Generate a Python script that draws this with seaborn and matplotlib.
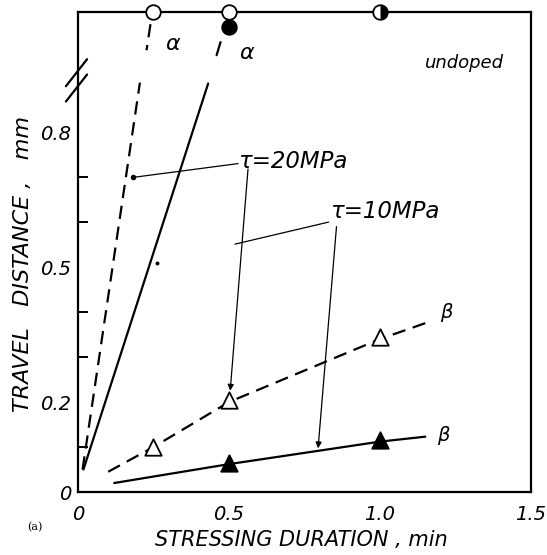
import matplotlib
matplotlib.use("Agg")
import matplotlib.pyplot as plt
import seaborn as sns
import pandas as pd
from matplotlib.markers import MarkerStyle

# ---------------- data ----------------
x_ticks = [0, 0.5, 1.0, 1.5]
x_ticklabels = ["0", "0.5", "1.0", "1.5"]
y_major = [0, 0.2, 0.5, 0.8]
y_major_labels = ["0", "0.2", "0.5", "0.8"]
y_minor = [0.1, 0.3, 0.4, 0.6, 0.7]
y_top = 1.067          # top frame (specimen fully crossed)

# alpha dislocations (steep lines)
alpha_dash_x = [0.015, 0.205]
alpha_dash_y = [0.05, 0.91]
alpha_solid_x = [0.018, 0.431]
alpha_solid_y = [0.05, 0.908]
alpha_dash_stub_x = [0.240, 0.227]
alpha_dash_stub_y = [1.04, 0.982]
alpha_solid_stub_x = [0.472, 0.459]
alpha_solid_stub_y = [1.0, 0.971]
top_open_x = [0.25, 0.5]
top_half_x = [1.0]
top_filled_x = [0.5]
top_filled_y = [1.034]
alpha_dot_x = [0.26]
alpha_dot_y = [0.51]

# beta dislocations
beta_dash_x = [0.10, 0.25, 0.5, 1.0, 1.17]
beta_dash_y = [0.045, 0.10, 0.20, 0.34, 0.38]
open_tri_x = [0.25, 0.5, 1.0]
open_tri_y = [0.10, 0.205, 0.345]
beta_solid_x = [0.12, 0.5, 1.0, 1.15]
beta_solid_y = [0.02, 0.062, 0.112, 0.123]
filled_tri_x = [0.5, 1.0]
filled_tri_y = [0.064, 0.115]

# ---------------- figure ----------------
sns.set_theme(style="white")
plt.rcParams['font.family'] = ['DejaVu Sans']
plt.rcParams['text.color'] = 'black'
fig = plt.figure(figsize=(5.47, 5.55), dpi=100)
ax = fig.add_axes([0.1426, 0.1135, 0.8281, 0.8649])
ax.set_xlim(0, 1.5)
ax.set_ylim(0, y_top)

lw = 1.6
dash = (6, 3.5)

def line(xs, ys, dashed=False, lw_=lw):
    df = pd.DataFrame({"x": xs, "y": ys})
    sns.lineplot(data=df, x="x", y="y", ax=ax, color="black", lw=lw_,
                 sort=False, estimator=None, legend=False)
    ln = ax.lines[-1]
    if dashed:
        ln.set_dashes(dash)
    ln.set_clip_on(False)
    return ln

line(alpha_dash_x, alpha_dash_y, dashed=True)
line(alpha_solid_x, alpha_solid_y)
line(alpha_dash_stub_x, alpha_dash_stub_y, dashed=True)
line(alpha_solid_stub_x, alpha_solid_stub_y)
line(beta_dash_x, beta_dash_y, dashed=True)
line(beta_solid_x, beta_solid_y)

# markers
def scat(xs, ys, marker, fc, s, ec="black", lw_=1.3):
    df = pd.DataFrame({"x": xs, "y": ys})
    sns.scatterplot(data=df, x="x", y="y", ax=ax, marker=marker, s=s,
                    facecolor=fc, edgecolor=ec, linewidth=lw_, zorder=5,
                    clip_on=False, legend=False)

scat(top_open_x, [y_top] * len(top_open_x), "o", "white", 110)
scat(top_half_x, [y_top], "o", "white", 110)
scat(top_half_x, [y_top], MarkerStyle("o", fillstyle="right"), "black", 110, lw_=0)
scat(top_filled_x, top_filled_y, "o", "black", 110)
scat(open_tri_x, open_tri_y, "^", "white", 140)
scat(filled_tri_x, filled_tri_y, "^", "black", 140)
scat(alpha_dot_x, alpha_dot_y, "o", "black", 8, lw_=0)

# axes styling
for sp in ax.spines.values():
    sp.set_color("black")
    sp.set_linewidth(1.6)
ax.set_xticks(x_ticks)
ax.set_xticklabels(x_ticklabels)
ax.set_yticks(y_major)
ax.set_yticklabels(y_major_labels)
ax.set_yticks(y_minor, minor=True)
ax.tick_params(axis="both", which="major", direction="in", length=10, width=1.4,
               labelsize=14, colors="black")
ax.tick_params(axis="y", which="minor", direction="in", length=7, width=1.4,
               left=True, colors="black")
ax.tick_params(axis="x", pad=9)
ax.tick_params(axis="y", pad=5)
for t in ax.get_xticklabels() + ax.get_yticklabels():
    t.set_fontstyle("italic")
ax.set_xlabel("")
ax.set_ylabel("")

# axis break marks
for yb in [0.932, 0.898]:
    ax.plot([-0.04, 0.03], [yb - 0.03, yb + 0.03], color="black", lw=1.6, clip_on=False)

# labels
fig.text(0.551, 0.027, "STRESSING DURATION , min", fontsize=15, style="italic",
         ha="center", va="center", color="black")
fig.text(0.042, 0.525, "TRAVEL   DISTANCE ,   mm", fontsize=16, style="italic",
         ha="center", va="center", rotation=90, color="black")
fig.text(0.064, 0.05, "(a)", fontsize=8, family="DejaVu Serif", ha="center",
         va="center", color="black")

ax.text(1.41, 0.953, "undoped", fontsize=13, style="italic", ha="right", va="center")
ax.text(0.29, 0.995, "α", fontsize=16, style="italic", ha="left", va="center")
ax.text(0.535, 0.975, "α", fontsize=16, style="italic", ha="left", va="center")
ax.text(1.2, 0.40, "β", fontsize=14, style="italic", ha="left", va="center")
ax.text(1.19, 0.125, "β", fontsize=14, style="italic", ha="left", va="center")

ax.text(0.53, 0.735, "τ=20MPa", fontsize=16.5, style="italic", ha="left", va="center")
ax.text(0.835, 0.623, "τ=10MPa", fontsize=16.5, style="italic", ha="left", va="center")

# leader lines
ax.plot([0.53, 0.19], [0.73, 0.70], color="black", lw=0.9)
ax.plot([0.183], [0.70], marker="o", ms=3, color="black")
ax.annotate("", xy=(0.504, 0.225), xytext=(0.563, 0.718),
            arrowprops=dict(arrowstyle="-|>", color="black", lw=0.9,
                            mutation_scale=9, shrinkA=0, shrinkB=0))
ax.plot([0.83, 0.52], [0.60, 0.551], color="black", lw=0.9)
ax.annotate("", xy=(0.795, 0.097), xytext=(0.856, 0.59),
            arrowprops=dict(arrowstyle="-|>", color="black", lw=0.9,
                            mutation_scale=9, shrinkA=0, shrinkB=0))

fig.savefig("out.png", dpi=100, facecolor="white")
